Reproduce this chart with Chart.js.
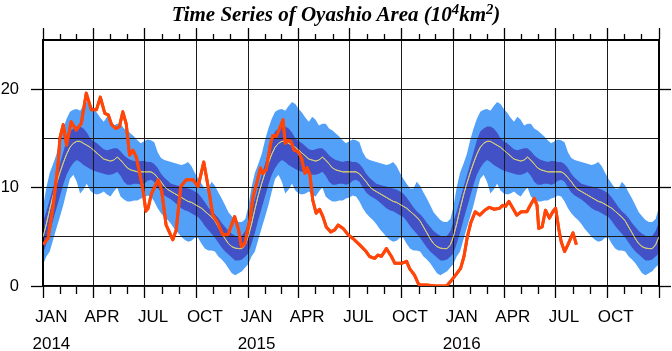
<!DOCTYPE html>
<html>
<head>
<meta charset="utf-8">
<script src="https://cdn.jsdelivr.net/npm/chart.js@4/dist/chart.umd.min.js"></script>
<style>
html,body{margin:0;padding:0;background:#fff;}
#wrap{position:relative;width:672px;height:351px;}
#title{position:absolute;left:0;top:0;width:672px;text-align:center;font:italic bold 21px "Liberation Serif","Times New Roman",serif;line-height:28px;color:#000;}
#title sup{font-size:70%;line-height:0;vertical-align:0.45em;}
canvas{position:absolute;left:0;top:0;}
</style>
</head>
<body>
<div id="wrap">
<canvas id="c" width="672" height="351"></canvas>
<div id="title">Time Series of Oyashio Area (10<sup>4</sup>km<sup>2</sup>)</div>
</div>
<script>
// ---- climatology (day of year) ----
const climDay = [0,6,12,18,24,30,36,42,48,54,60,66,72,78,84,90,96,102,108,114,120,126,132,138,144,150,156,162,168,174,180,186,192,198,204,210,216,222,228,234,240,246,252,258,264,270,276,282,288,294,300,306,312,318,324,330,336,342,348,354,360];
const climMean = [5.0,6.3,7.8,9.2,10.4,11.5,12.5,13.4,14.1,14.5,14.7,14.7,14.5,14.3,14.1,13.8,13.5,13.2,12.9,12.8,12.7,12.8,13.1,12.8,12.4,12.0,11.8,11.7,11.6,11.6,11.6,11.6,11.6,11.4,11.0,10.6,10.1,9.8,9.6,9.4,9.2,9.0,8.8,8.6,8.5,8.3,8.1,7.9,7.6,7.3,7.0,6.6,6.0,5.4,4.8,4.3,4.0,3.85,3.8,3.8,4.2];
const sd1Upper = [6.5,7.6,8.8,10.0,11.2,12.4,13.6,14.8,15.7,16.0,16.2,16.2,16.0,15.6,15.0,14.7,14.5,14.2,13.9,13.8,13.9,14.0,14.0,13.7,13.3,13.0,12.8,12.7,12.6,12.7,12.7,12.6,12.6,12.4,12.0,11.4,11.0,10.7,10.4,10.3,10.2,10.1,10.0,9.9,9.8,9.6,9.4,9.0,8.5,8.0,7.6,7.3,6.9,6.4,6.0,5.6,5.3,5.1,5.0,5.1,5.6];
const sd1Lower = [3.3,4.3,5.4,6.7,7.9,9.1,10.3,11.3,12.0,12.5,12.8,12.6,12.3,12.1,11.9,11.7,11.6,11.5,11.4,11.3,11.3,11.4,11.6,11.2,10.6,10.3,10.3,10.4,10.4,10.3,10.4,10.7,10.8,10.6,10.0,9.5,9.2,9.0,8.8,8.5,8.2,7.9,7.7,7.6,7.4,7.2,7.0,6.6,6.1,5.7,5.3,4.9,4.4,3.9,3.5,3.2,2.9,2.6,2.6,2.7,3.0];
const sd2Upper = [8.0,10.0,11.5,12.4,13.4,14.8,16.0,17.0,17.7,17.9,18.0,17.8,18.3,18.7,18.5,18.0,17.6,17.1,16.7,17.2,16.9,16.3,16.5,16.5,16.0,15.8,15.5,15.2,14.8,14.5,14.7,14.9,14.8,14.6,13.6,13.0,12.8,12.7,12.6,12.5,12.4,12.3,12.4,12.6,12.2,11.5,10.9,10.4,9.9,9.9,10.6,10.2,9.5,8.9,8.2,7.5,7.1,6.7,6.5,6.5,6.8];
const sd2Lower = [2.2,3.0,3.5,4.7,5.9,7.0,8.2,9.6,10.9,11.3,10.6,9.4,9.8,10.4,9.7,9.4,9.3,9.4,9.6,9.3,9.1,9.6,10.0,9.1,8.8,8.6,8.6,8.7,8.7,8.9,9.0,9.2,9.1,8.6,7.9,7.4,7.0,6.7,6.3,5.8,5.4,5.0,4.7,4.5,4.6,4.9,4.9,4.3,3.8,3.6,3.6,3.5,3.0,2.7,2.3,1.8,1.3,1.1,1.3,1.5,1.9];

// ---- observed series (days since 2014-01-01) ----
const obsDay = [0,9,18,27,30,36,42,50,59,68,77,86,95,102,110,116,122,130,136,142,148,154,160,166,172,178,183,187,193,205,211,219,231,237,245,255,267,276,286,296,302,311,320,329,341,348,353,359,368,374,380,387,391,397,405,409,415,421,427,431,436,441,447,454,460,466,470,475,480,486,492,498,504,512,519,525,534,543,552,563,575,581,590,596,602,611,620,626,638,647,652,661,669,682,700,718,725,734,743,749,755,761,769,777,786,794,803,812,818,823,829,836,843,851,861,867,874,879,882,888,894,901,907,912,918,922,928,934,943,949];
const obsVal = [4.2,4.85,8.1,12.5,15.0,16.4,14.3,16.7,15.85,16.5,19.6,17.9,17.9,19.2,17.55,17.4,16.4,16.0,16.2,17.7,16.5,13.3,13.8,13.1,11.45,9.76,7.6,7.9,9.4,10.8,9.76,6.2,4.7,5.7,10.1,10.8,10.8,10.1,12.6,9.4,7.2,6.4,5.2,5.2,7.05,5.7,4.0,4.3,6.7,9.1,10.4,12.0,11.45,11.8,14.5,15.3,15.2,16.0,16.9,14.5,14.8,14.7,13.8,13.65,13.0,11.45,12.0,11.3,8.7,7.4,7.8,7.05,6.0,5.5,5.7,6.2,5.85,5.2,4.8,4.2,3.5,3.0,2.8,3.15,3.0,3.8,3.0,2.3,2.3,2.5,1.8,1.1,0.1,0.1,0.0,0.0,0.45,1.1,1.8,3.0,5.0,6.4,7.55,7.2,7.7,8.0,7.8,7.9,8.2,8.1,8.6,7.9,7.2,7.55,7.55,8.2,8.9,8.2,5.85,6.0,7.7,6.9,7.55,7.9,5.7,4.5,3.5,4.2,5.4,4.2];

// ---- axis labels ----
const years = [2014, 2015, 2016];
const monthLabels = ['JAN','APR','JUL','OCT'];
const yearLabels = ['2014','2015','2016'];
const yTickValues = [0,5,10,15,20,25];
const yTickLabels = [0,10,20];

const DAY = 86400000;
const base = Date.UTC(2014,0,1);
const yearStart = years.map(y => (Date.UTC(y,0,1)-base)/DAY);
const xEnd = (Date.UTC(2017,0,1)-base)/DAY;
const monthStarts = [];
years.forEach(y => { for (let m=0;m<12;m++) monthStarts.push((Date.UTC(y,m,1)-base)/DAY); });
monthStarts.push(xEnd);

function climSeries(arr){
  const pts = [];
  yearStart.forEach(off => climDay.forEach((d,i) => pts.push({x: off+d, y: arr[i]})));
  pts.push({x: xEnd, y: arr[0]});
  return pts;
}
const obsPts = obsDay.map((d,i)=>({x:d, y:obsVal[i]}));

const LIGHT = 'rgb(82,160,248)';
const DARK = 'rgb(66,82,198)';
const GRID = '#1a1a1a';

const isMajor = ctx => ctx.index % 3 === 0;
const FAMILY = '"Liberation Sans", Arial, sans-serif';

const redrawLines = {
  id:'redrawLines',
  afterDraw(chart){
    const ctx = chart.ctx, a = chart.chartArea;
    ctx.save();
    ctx.beginPath(); ctx.rect(a.left, a.top, a.right-a.left, a.bottom-a.top); ctx.clip();
    [4,5].forEach(i => chart.getDatasetMeta(i).controller.draw());
    ctx.restore();
  }
};

new Chart(document.getElementById('c'), {
  type:'line',
  data:{
    datasets:[
      {data: climSeries(sd2Upper), fill: 1, backgroundColor: LIGHT, borderWidth:0, pointRadius:0, order:3},
      {data: climSeries(sd2Lower), fill: false, borderWidth:0, pointRadius:0, order:3},
      {data: climSeries(sd1Upper), fill: 3, backgroundColor: DARK, borderWidth:0, pointRadius:0, order:2},
      {data: climSeries(sd1Lower), fill: false, borderWidth:0, pointRadius:0, order:2},
      {data: climSeries(climMean), fill:false, borderColor:'rgb(214,204,120)', borderWidth:1, pointRadius:0, order:1},
      {data: obsPts, fill:false, borderColor:'rgb(255,70,8)', borderWidth:3, pointRadius:0, order:0, borderJoinStyle:'round'}
    ]
  },
  options:{
    responsive:false, animation:false, devicePixelRatio:1,
    layout:{padding:0},
    plugins:{legend:{display:false}, tooltip:{enabled:false}, title:{display:false}},
    elements:{line:{tension:0}},
    scales:{
      x:{type:'linear', position:'bottom', min:0, max:xEnd,
        afterBuildTicks: s => { s.ticks = monthStarts.map(v=>({value:v})); },
        afterFit: s => { s.height = 65; },
        ticks:{autoSkip:false, maxRotation:0, minRotation:0, labelOffset:8.4, padding:5.5, color:'#000',
          font:{family:FAMILY, size:17, lineHeight:1.6},
          callback:(v,i)=>{
            if (i%3!==0 || i>=36) return '';
            const name = monthLabels[(i%12)/3];
            return (i%12===0) ? [name, yearLabels[i/12]] : name;
          }},
        grid:{z:1, color: ctx => isMajor(ctx) ? GRID : 'rgba(0,0,0,0)', lineWidth:1, tickLength:12, tickColor:'#000', tickWidth:1.3,
          tickBorderDash: ctx => isMajor(ctx) ? [] : [7,100]},
        border:{color:'#000', width:2, z:1}
      },
      xTop:{type:'linear', position:'top', min:0, max:xEnd,
        afterBuildTicks: s => { s.ticks = monthStarts.map(v=>({value:v})); },
        afterFit: s => { s.height = 40; },
        ticks:{display:false, autoSkip:false, maxRotation:0},
        grid:{z:1, drawOnChartArea:false, tickLength:12, tickColor:'#000', tickWidth:1.3,
          tickBorderDash: ctx => isMajor(ctx) ? [] : [0,6,6,100]},
        border:{color:'#000', width:2, z:1}
      },
      y:{type:'linear', position:'left', min:0, max:25,
        afterBuildTicks: s => { s.ticks = yTickValues.map(v=>({value:v})); },
        afterFit: s => { s.width = 43; },
        ticks:{padding:12, color:'#000', font:{family:FAMILY, size:16.5},
          callback: v => yTickLabels.includes(v) ? String(v) : ''},
        grid:{z:1, color: ctx => (ctx.tick && ctx.tick.value < 25) ? GRID : 'rgba(0,0,0,0)', lineWidth:1, tickLength:12,
          tickColor: ctx => (ctx.tick && yTickLabels.includes(ctx.tick.value)) ? '#000' : 'rgba(0,0,0,0)', tickWidth:1.3},
        border:{color:'#000', width:2, z:1}
      },
      yRight:{type:'linear', position:'right', min:0, max:25,
        afterBuildTicks: s => { s.ticks = yTickValues.map(v=>({value:v})); },
        afterFit: s => { s.width = 13; },
        ticks:{display:false},
        grid:{z:1, drawOnChartArea:false, tickLength:12,
          tickColor: ctx => (ctx.tick && yTickLabels.includes(ctx.tick.value)) ? '#000' : 'rgba(0,0,0,0)', tickWidth:1.3},
        border:{color:'#000', width:2, z:1}
      }
    }
  },
  plugins:[redrawLines]
});
</script>
</body>
</html>
